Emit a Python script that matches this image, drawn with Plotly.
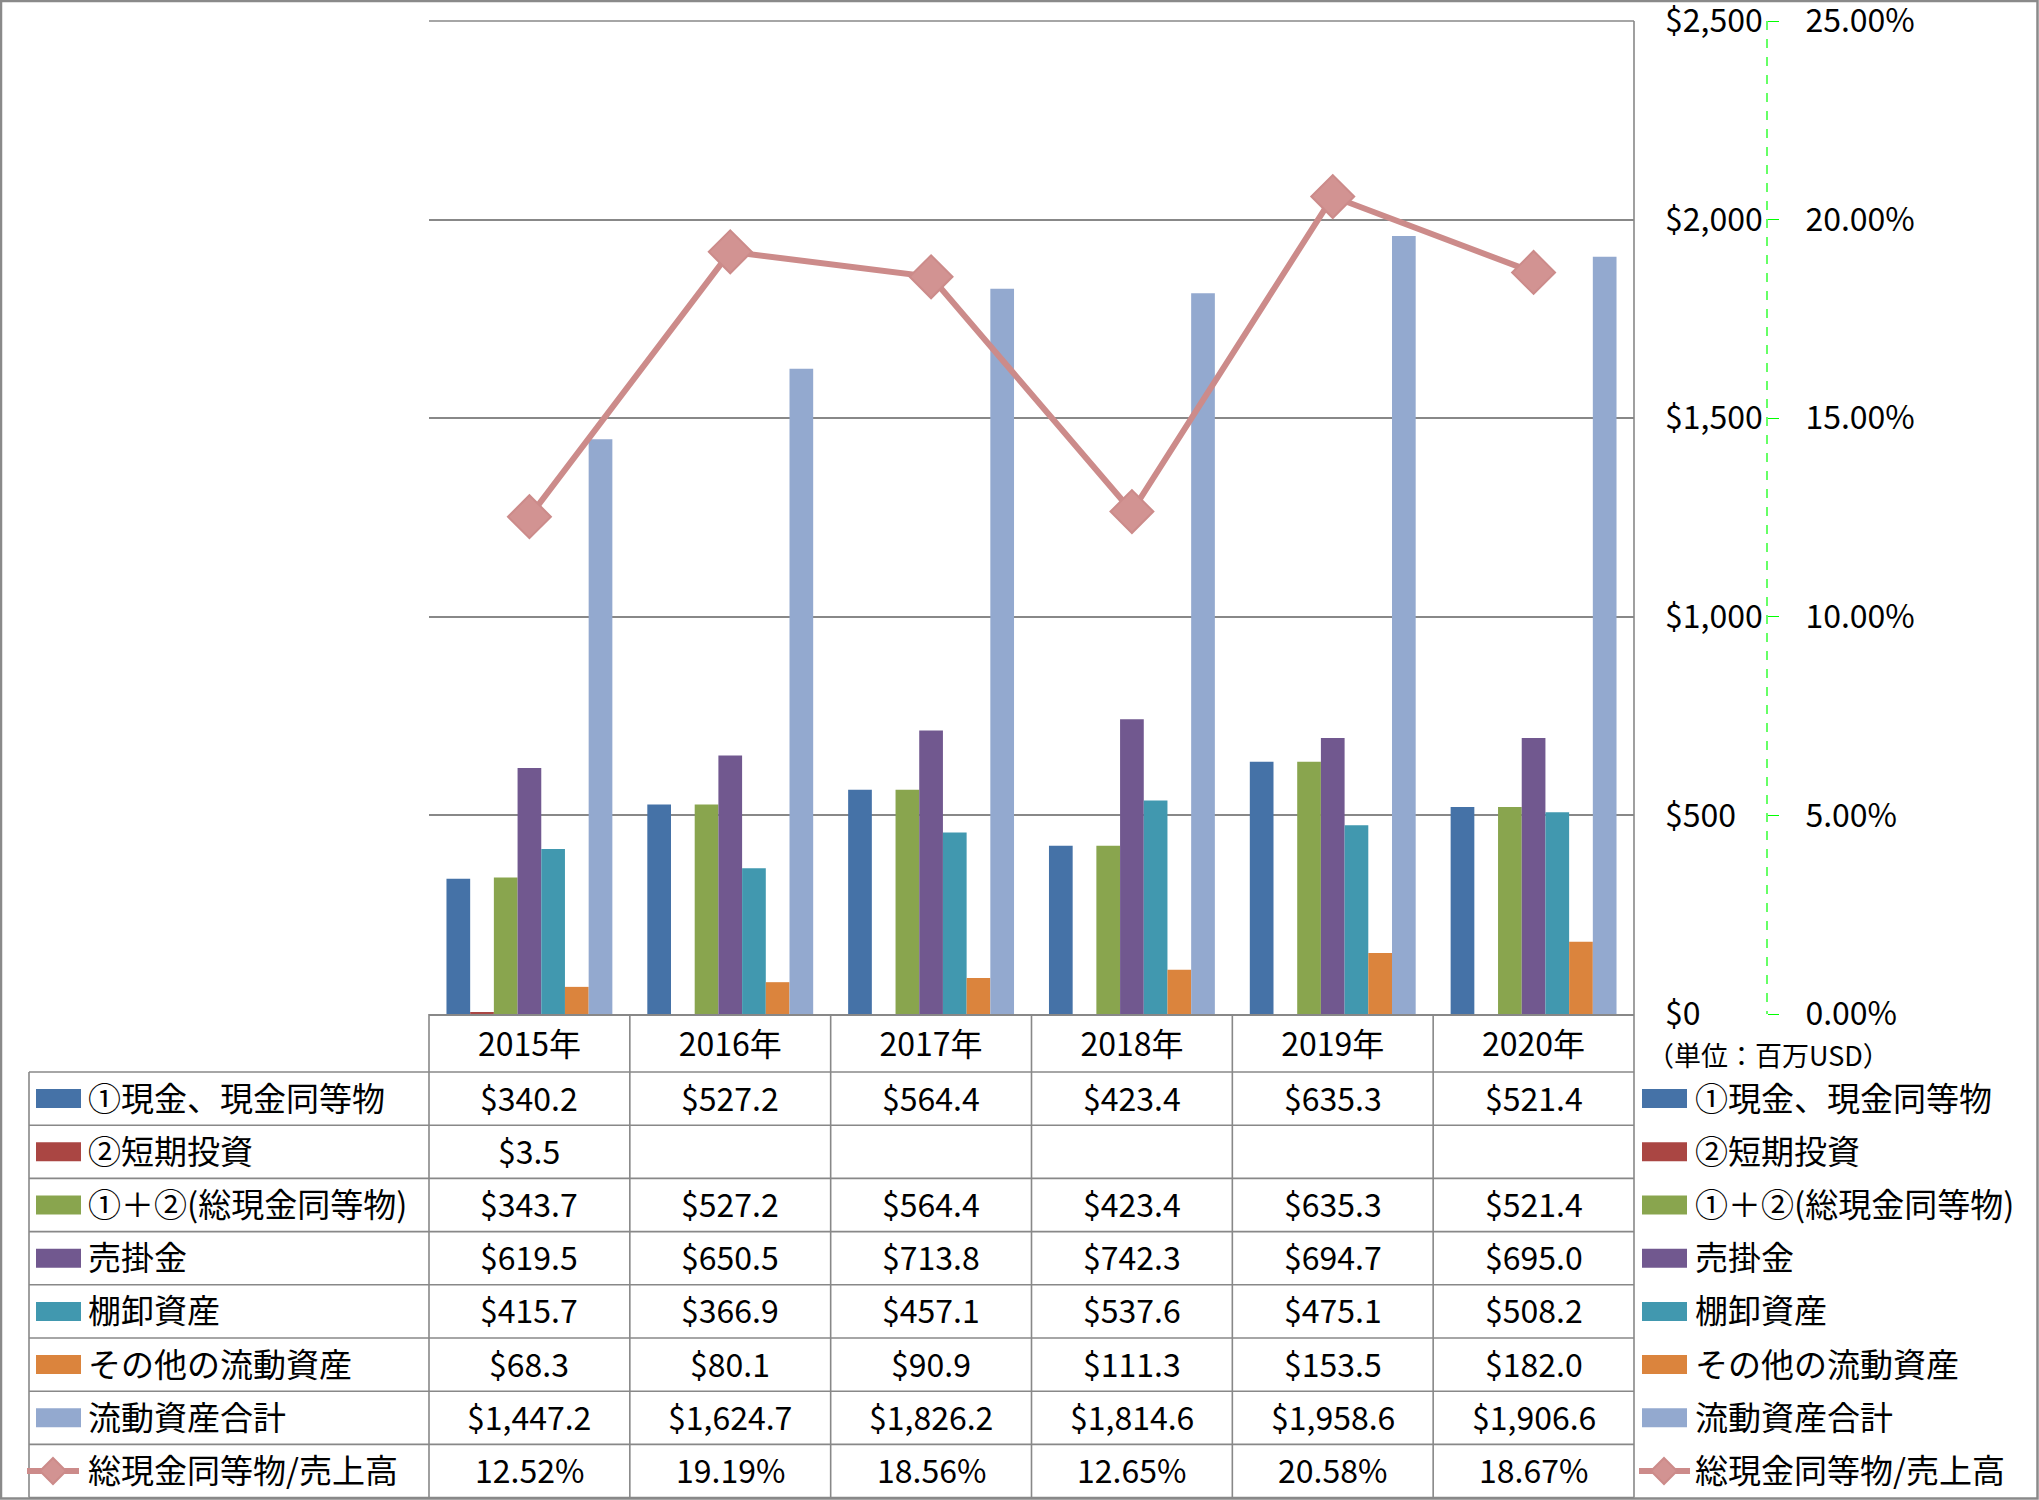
import plotly.graph_objects as go

# ---------------- data ----------------
categories = ['2015年', '2016年', '2017年', '2018年', '2019年', '2020年']
series_names = ['①現金、現金同等物', '②短期投資', '①＋②(総現金同等物)', '売掛金',
                '棚卸資産', 'その他の流動資産', '流動資産合計']
cash = [340.2, 527.2, 564.4, 423.4, 635.3, 521.4]
short_term = [3.5, None, None, None, None, None]
total_cash = [343.7, 527.2, 564.4, 423.4, 635.3, 521.4]
receivables = [619.5, 650.5, 713.8, 742.3, 694.7, 695.0]
inventory = [415.7, 366.9, 457.1, 537.6, 475.1, 508.2]
other_current = [68.3, 80.1, 90.9, 111.3, 153.5, 182.0]
current_total = [1447.2, 1624.7, 1826.2, 1814.6, 1958.6, 1906.6]
line_name = '総現金同等物/売上高'
ratio_pct = [12.52, 19.19, 18.56, 12.65, 20.58, 18.67]
unit_label = '（単位：百万USD）'

series_values = [cash, short_term, total_cash, receivables, inventory, other_current, current_total]
colors = ['#4572A7', '#AA4643', '#89A54E', '#71588F', '#4198AF', '#DB843D', '#93A9CF']
LINE_C = '#CC8B8A'
MARK_C = '#D29392'
GRID = '#888888'
FONT = 'Noto Sans CJK JP'

W, H = 2039, 1500
def X(p):
    return p / W
def Y(p):
    return 1 - p / H

PL, PR, PT, PB = 429, 1634, 21, 1014
TBL_L = 29
ROW_TOP = 1072
ROW_H = (1497.6 - ROW_TOP) / 8
FS = 32
FS_LBL = 33
TXT_DY = -2

fig = go.Figure()
for name, vals, c in zip(series_names, series_values, colors):
    fig.add_bar(x=categories, y=vals, name=name, marker_color=c, marker_line_width=0)

fig.add_scatter(x=categories, y=[r / 100 for r in ratio_pct], name=line_name, yaxis='y2',
                mode='lines+markers', line=dict(color=LINE_C, width=6),
                marker=dict(symbol='diamond', size=33, color=MARK_C,
                            line=dict(color=LINE_C, width=2)))

shapes = []
def line(x0, y0, x1, y1, color=GRID, width=1.6, dash='solid'):
    shapes.append(dict(type='line', xref='paper', yref='paper', x0=X(x0), y0=Y(y0),
                       x1=X(x1), y1=Y(y1), line=dict(color=color, width=width, dash=dash)))

# outer border
shapes.append(dict(type='rect', xref='paper', yref='paper', x0=X(1), y0=Y(1498.5), x1=X(2037.5), y1=Y(1),
                   line=dict(color='#8a8a8a', width=2.5)))
# top gridline
line(PL, PT, PR, PT, width=1.6)
# green dashed secondary axis line
line(1767, PT, 1767, PB, color='#00FF00', width=1.2, dash='dash')
# plot/table right edge
line(PR, PT, PR, 1497.6)
# table vertical lines
ncat = len(categories)
colw = (PR - PL) / ncat
for i in range(ncat):
    xe = PL + i * colw
    line(xe, PB, xe, 1497.6)
line(TBL_L, ROW_TOP, TBL_L, 1497.6)
for i in range(9):
    yy = ROW_TOP + i * ROW_H
    line(TBL_L, yy, PR, yy)

annotations = []
def text(x, y, s, anchor='center', size=FS):
    annotations.append(dict(xref='paper', yref='paper', x=X(x), y=Y(y + TXT_DY), text=s, showarrow=False,
                            xanchor=anchor, yanchor='middle', font=dict(size=size, color='black', family=FONT)))

def fmt_money(v):
    return '' if v is None else '${:,.1f}'.format(v)

all_rows = [(n, v, c) for n, v, c in zip(series_names, series_values, colors)]
for r, (name, vals, c) in enumerate(all_rows):
    yc = ROW_TOP + (r + 0.5) * ROW_H
    for k, v in enumerate(vals):
        s = fmt_money(v)
        if s:
            text(PL + (k + 0.5) * colw, yc, s)
    # left key
    shapes.append(dict(type='rect', xref='paper', yref='paper', x0=X(36), x1=X(81), y0=Y(yc + 9.5), y1=Y(yc - 9.5),
                       fillcolor=c, line=dict(width=0)))
    text(86, yc, name, anchor='left', size=FS_LBL)
    # right legend
    shapes.append(dict(type='rect', xref='paper', yref='paper', x0=X(1642), x1=X(1687), y0=Y(yc + 9.5), y1=Y(yc - 9.5),
                       fillcolor=c, line=dict(width=0)))
    text(1693, yc, name, anchor='left', size=FS_LBL)

# ratio row
yc = ROW_TOP + 7.5 * ROW_H
for k, v in enumerate(ratio_pct):
    text(PL + (k + 0.5) * colw, yc, '{:.2f}%'.format(v))
for (xa, xb, xm, tx) in [(27, 79, 53, 86), (1639, 1690, 1664, 1693)]:
    line(xa, yc, xb, yc, color=LINE_C, width=6)
    d = 13
    shapes.append(dict(type='path', xref='paper', yref='paper',
                       path='M {},{} L {},{} L {},{} L {},{} Z'.format(X(xm), Y(yc - d), X(xm + d), Y(yc),
                                                                    X(xm), Y(yc + d), X(xm - d), Y(yc)),
                       fillcolor=MARK_C, line=dict(color=LINE_C, width=2)))
    text(tx, yc, line_name, anchor='left', size=FS_LBL)

text(1645, 1056, unit_label, anchor='left', size=27)

fig.update_layout(
    width=W, height=H, autosize=False,
    margin=dict(l=0, r=0, t=0, b=0, autoexpand=False),
    paper_bgcolor='white', plot_bgcolor='white',
    font=dict(family=FONT, size=FS, color='black'),
    showlegend=False,
    barmode='group', bargap=0.174, bargroupgap=0,
    xaxis=dict(domain=[X(PL), X(PR)], showline=True, linecolor=GRID, linewidth=2, automargin=False,
               ticks='', showgrid=False, tickfont=dict(size=FS, color='black'),
               ticklabelstandoff=2),
    yaxis=dict(domain=[Y(PB), Y(PT)], range=[0, 2500], dtick=500, side='right', automargin=False,
               showgrid=True, gridcolor=GRID, gridwidth=1.6, zeroline=False,
               tickprefix='$', tickformat=',', ticks='', ticklabelstandoff=30,
               ticklabeloverflow='allow', tickfont=dict(size=FS, color='black')),
    yaxis2=dict(overlaying='y', side='right', anchor='free', position=X(1767), automargin=False,
                range=[0, 0.25], dtick=0.05, tickformat='.2%', showgrid=False, zeroline=False,
                ticks='outside', ticklen=11, tickcolor='#00FF00', tickwidth=1,
                ticklabelstandoff=20, showline=False, ticklabeloverflow='allow',
                tickfont=dict(size=FS, color='black')),
    shapes=shapes, annotations=annotations,
)

fig.write_html('out.html', config={'displayModeBar': False},
               post_script="document.body.style.margin='0';document.body.style.overflow='hidden';")
